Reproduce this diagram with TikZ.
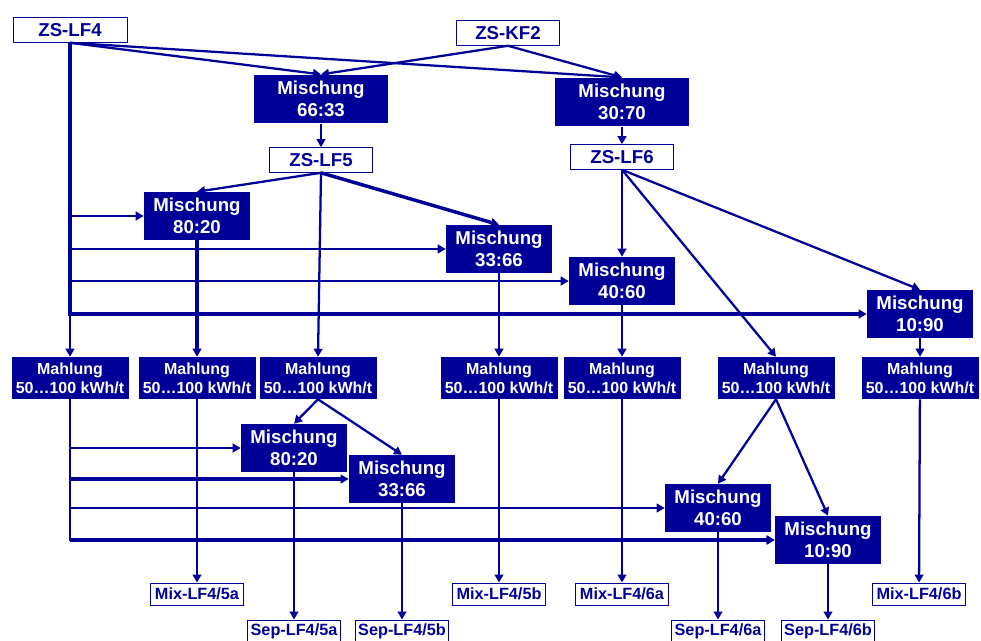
\documentclass[tikz,border=0pt]{standalone}
\usepackage{fontspec}
\setmainfont{Liberation Sans}
\usetikzlibrary{arrows.meta}
\definecolor{navy}{RGB}{0,0,153}
\begin{document}
\begin{tikzpicture}[x=0.75pt,y=-0.75pt,
  fbox/.style={fill=navy, text=white, font=\bfseries\fontsize{14}{16.3}\selectfont, align=center, inner sep=0pt},
  mixbox/.style={fbox, minimum width=79.5pt, minimum height=36pt},
  bigmix/.style={fbox, minimum width=101pt, minimum height=36.5pt},
  mahl/.style={fbox, font=\bfseries\fontsize{12}{14.3}\selectfont, minimum width=87.75pt, minimum height=31.5pt},
  obox/.style={draw=navy, line width=0.7pt, fill=white, text=navy, font=\bfseries\fontsize{14}{16}\selectfont, inner sep=0pt},
  zs/.style={obox, minimum width=77.25pt, minimum height=18.5pt},
  outb/.style={obox, font=\bfseries\fontsize{12.2}{14}\selectfont, minimum width=69.75pt, minimum height=16.5pt},
  con/.style={draw=navy, line width=1.7pt, -{Triangle[length=6pt,width=6.5pt]}},
  conthick/.style={con, line width=2.6pt}
]
\useasboundingbox (0,0) rectangle (981,641);
% top sources
\node[zs, minimum width=85.5pt] (lf4) at (70,30) {ZS-LF4};
\node[zs] (kf2) at (508,33) {ZS-KF2};
\node[bigmix] (m6633) at (321,99) {Mischung\\66:33};
\node[bigmix] (m3070) at (622,102) {Mischung\\30:70};
\node[zs] (lf5) at (321,160) {ZS-LF5};
\node[zs] (lf6) at (622,157) {ZS-LF6};
% upper mixtures
\node[mixbox] (u8020) at (197,216) {Mischung\\80:20};
\node[mixbox] (u3366) at (499,249) {Mischung\\33:66};
\node[mixbox] (u4060) at (622,281) {Mischung\\40:60};
\node[mixbox] (u1090) at (920,314) {Mischung\\10:90};
% grinding
\node[mahl] (g1) at (70,378) {Mahlung\\50…100 kWh/t};
\node[mahl] (g2) at (197,378) {Mahlung\\50…100 kWh/t};
\node[mahl] (g3) at (318,378) {Mahlung\\50…100 kWh/t};
\node[mahl] (g4) at (499,378) {Mahlung\\50…100 kWh/t};
\node[mahl] (g5) at (622,378) {Mahlung\\50…100 kWh/t};
\node[mahl] (g6) at (776,378) {Mahlung\\50…100 kWh/t};
\node[mahl] (g7) at (920,378) {Mahlung\\50…100 kWh/t};
% lower mixtures
\node[mixbox] (l8020) at (294,448) {Mischung\\80:20};
\node[mixbox] (l3366) at (402,479) {Mischung\\33:66};
\node[mixbox] (l4060) at (718,508) {Mischung\\40:60};
\node[mixbox] (l1090) at (828,540) {Mischung\\10:90};
% outputs
\node[outb] (mix5a) at (197,594) {Mix-LF4/5a};
\node[outb] (mix5b) at (499,594) {Mix-LF4/5b};
\node[outb] (mix6a) at (622,594) {Mix-LF4/6a};
\node[outb] (mix6b) at (919,594) {Mix-LF4/6b};
\node[outb] (sep5a) at (294,631) {Sep-LF4/5a};
\node[outb] (sep5b) at (402,631) {Sep-LF4/5b};
\node[outb] (sep6a) at (718,631) {Sep-LF4/6a};
\node[outb] (sep6b) at (828,631) {Sep-LF4/6b};
% connectors top
\draw[con] (lf4.south) -- (m6633.north);
\draw[con] (lf4.south) -- (m3070.north);
\draw[con] (kf2.south) -- (m6633.north);
\draw[con] (kf2.south) -- (m3070.north);
\draw[con] (m6633) -- (lf5);
\draw[con] (m3070) -- (lf6);
% LF4 trunk
\draw[conthick] (lf4.south) |- (u1090.west);
\draw[con] (lf4.south) |- (u8020.west);
\draw[con] (lf4.south) |- (u3366.west);
\draw[con] (lf4.south) |- (u4060.west);
\draw[con] (lf4.south) -- (g1.north);
% LF5
\draw[con] (lf5.south) -- (u8020.north);
\draw[conthick] (lf5.south) -- (u3366.north);
\draw[con] (lf5.south) -- (g3.north);
% LF6
\draw[con] (lf6.south) -- (u4060.north);
\draw[con] (lf6.south) -- (g6.north);
\draw[con] (lf6.south) -- (u1090.north);
% upper mixes to grinding
\draw[conthick] (u8020) -- (g2);
\draw[con] (u3366) -- (g4);
\draw[con] (u4060) -- (g5);
\draw[con] (u1090) -- (g7);
% M1 trunk
\draw[con] (g1.south) |- (l8020.west);
\draw[con] (g1.south) |- (l4060.west);
\draw[con] (g1.south) |- (l1090.west);
\draw[conthick] (g1.south |- l3366.west) -- (l3366.west);
\draw[conthick] (g1.south |- l1090.west) -- (l1090.west);
% M3, M6 splits
\draw[con] (g3.south) -- (l8020.north);
\draw[con] (g3.south) -- (l3366.north);
\draw[con] (g6.south) -- (l4060.north);
\draw[con] (g6.south) -- (l1090.north);
% to outputs
\draw[con] (g2) -- (mix5a);
\draw[con] (g4) -- (mix5b);
\draw[con] (g5) -- (mix6a);
\draw[con] (g7) -- (mix6b);
\draw[con] (l8020) -- (sep5a);
\draw[con] (l3366) -- (sep5b);
\draw[con] (l4060) -- (sep6a);
\draw[con] (l1090) -- (sep6b);
\end{tikzpicture}
\end{document}
